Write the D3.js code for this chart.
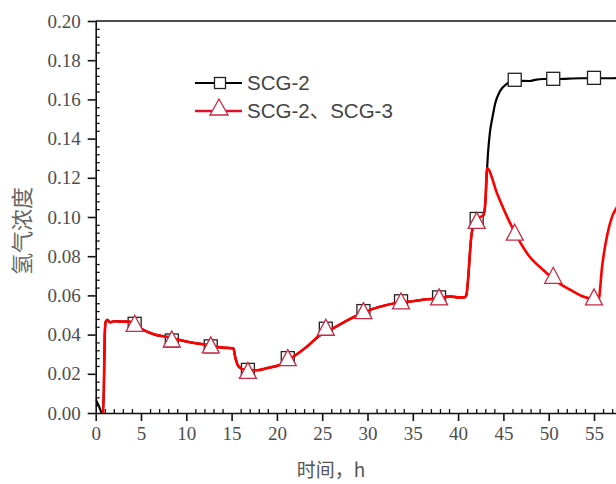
<!DOCTYPE html>
<html>
<head>
<meta charset="utf-8">
<script src="https://cdn.jsdelivr.net/npm/d3@7/dist/d3.min.js"></script>
<style>
  html, body { margin: 0; padding: 0; background: #fff; overflow: hidden; }
  svg { display: block; }
</style>
</head>
<body>
<svg id="chart" width="616" height="484"></svg>
<script>
// Hydrogen concentration over time, two monitoring cases.
// Both curves follow the same record until about 43 h.
const commonTime  = [0.8, 0.9, 1.0, 1.1, 1.3, 1.6, 2.0, 3.0, 3.8, 4.3, 5.3, 6.5, 8.2, 9.3, 10.5, 12.0, 12.6, 13.7, 15.2, 15.4, 15.8, 16.5, 17.8, 19.0, 20.3, 21.8, 23.3, 24.8, 26.2, 27.7, 29.2, 30.5, 32.0, 33.6, 35.0, 36.5, 38.0, 39.1, 40.0, 40.7, 40.9, 41.5, 42.0, 42.8, 43.0, 43.2];
const commonValue = [0.000, 0.012, 0.040, 0.0465, 0.0475, 0.0462, 0.0468, 0.0466, 0.0466, 0.0452, 0.0423, 0.0400, 0.0386, 0.0372, 0.0360, 0.0350, 0.0347, 0.0335, 0.0330, 0.0285, 0.0236, 0.0220, 0.0218, 0.0230, 0.0245, 0.0287, 0.0338, 0.0398, 0.0432, 0.0471, 0.0505, 0.0530, 0.0550, 0.0565, 0.0570, 0.0580, 0.0585, 0.0595, 0.0590, 0.0590, 0.0600, 0.0917, 0.0990, 0.1010, 0.1070, 0.1248];

// SCG-2 only: starts slightly above zero, then climbs to a plateau after 43 h
const scg2HeadTime  = [0.0, 0.4, 0.7];
const scg2HeadValue = [0.007, 0.003, 0.000];
const scg2TailTime  = [43.3, 43.5, 43.8, 44.1, 44.6, 45.4, 46.3, 47.9, 48.5, 49.4, 50.9, 53.5, 57.1, 60.0];
const scg2TailValue = [0.1325, 0.1427, 0.1510, 0.1580, 0.1640, 0.1680, 0.1695, 0.1694, 0.1700, 0.1704, 0.1704, 0.1708, 0.1708, 0.1710];

// SCG-2 and SCG-3: peaks near 43 h, decays, then rises again after 55 h
const scg23TailTime  = [44.3, 45.4, 46.5, 47.9, 49.4, 50.9, 52.4, 53.8, 54.9, 55.5, 55.9, 56.5, 57.0, 57.4, 58.0, 59.0, 60.0];
const scg23TailValue = [0.1120, 0.1002, 0.0900, 0.0797, 0.0730, 0.0670, 0.0628, 0.0594, 0.0580, 0.0577, 0.0750, 0.0917, 0.1002, 0.1040, 0.1080, 0.1120, 0.1150];

// Symbol positions along each curve
const markerTime  = [4.3, 8.4, 12.7, 16.8, 21.2, 25.4, 29.55, 33.7, 37.9, 42.05, 46.25, 50.5, 55.0];
const scg2Marker  = [0.0455, 0.0370, 0.0340, 0.0220, 0.0280, 0.0430, 0.0520, 0.0570, 0.0590, 0.0990, 0.1700, 0.1705, 0.1710];
const scg23Marker = [0.0455, 0.0375, 0.0345, 0.0215, 0.0280, 0.0435, 0.0520, 0.0570, 0.0590, 0.0980, 0.0920, 0.0700, 0.0590];

const xMajorTicks = [0, 5, 10, 15, 20, 25, 30, 35, 40, 45, 50, 55];
const yMajorTicks = [0.00, 0.02, 0.04, 0.06, 0.08, 0.10, 0.12, 0.14, 0.16, 0.18, 0.20];

const seriesNames = ["SCG-2", "SCG-2、SCG-3"];
const xTitle = "时间，h";
const yTitle = "氢气浓度";

const zip = (ts, vs) => ts.map((t, i) => ({ t, v: vs[i] }));
const common = zip(commonTime, commonValue);
const scg2 = zip(scg2HeadTime, scg2HeadValue).concat(common, zip(scg2TailTime, scg2TailValue));
const scg23 = common.concat(zip(scg23TailTime, scg23TailValue));

const svg = d3.select("#chart");
const plotLeft = 95.7, plotBottom = 413, plotTop = 21;

const x = d3.scaleLinear().domain([0, 60]).range([plotLeft, plotLeft + 60 * 9.06]);
const y = d3.scaleLinear().domain([0, 0.20]).range([plotBottom, plotTop]);

const tickFont = "'Liberation Serif', 'Times New Roman', serif";
const labelColor = "#4d4d4d";

// clip for the plotting region
svg.append("defs").append("clipPath").attr("id", "plotClip")
  .append("rect").attr("x", plotLeft).attr("y", plotTop - 10).attr("width", 700).attr("height", plotBottom - plotTop + 12);

// minor ticks (inward)
const xMinor = d3.range(0, 61, 1).filter(d => d % 5 !== 0);
const yMinor = d3.range(0, 51).map(i => i * 0.004).filter((d, i) => i % 5 !== 0);

svg.append("g").attr("transform", `translate(0,${plotBottom})`)
  .call(d3.axisBottom(x).tickValues(xMinor).tickSize(-4).tickFormat(""))
  .call(g => g.select(".domain").remove())
  .call(g => g.selectAll("line").attr("stroke", "#111").attr("stroke-width", 1.3));

svg.append("g").attr("transform", `translate(${plotLeft},0)`)
  .call(d3.axisLeft(y).tickValues(yMinor).tickSize(-4).tickFormat(""))
  .call(g => g.select(".domain").remove())
  .call(g => g.selectAll("line").attr("stroke", "#111").attr("stroke-width", 1.3));

// major ticks (outward) with labels
const xAxis = svg.append("g").attr("transform", `translate(0,${plotBottom})`)
  .call(d3.axisBottom(x).tickValues(xMajorTicks).tickSize(8).tickPadding(6).tickSizeOuter(0).tickFormat(d3.format("d")));
xAxis.select(".domain").attr("d", `M${plotLeft},0.5H700`).attr("stroke", "#111").attr("stroke-width", 1.6);
xAxis.selectAll(".tick line").attr("stroke", "#111").attr("stroke-width", 1.6);
xAxis.selectAll(".tick text").attr("font-family", tickFont).attr("font-size", 19).attr("fill", labelColor);

const yAxis = svg.append("g").attr("transform", `translate(${plotLeft},0)`)
  .call(d3.axisLeft(y).tickValues(yMajorTicks).tickSize(8).tickPadding(7).tickSizeOuter(0).tickFormat(d3.format(".2f")));
yAxis.select(".domain").attr("d", `M0.5,${plotTop}V${plotBottom}`).attr("stroke", "#111").attr("stroke-width", 1.6);
yAxis.selectAll(".tick line").attr("stroke", "#111").attr("stroke-width", 1.6);
yAxis.selectAll(".tick text").attr("font-family", tickFont).attr("font-size", 19).attr("fill", labelColor);

// top frame line
svg.append("line").attr("x1", plotLeft).attr("x2", 700).attr("y1", plotTop).attr("y2", plotTop)
  .attr("stroke", "#111").attr("stroke-width", 1.6);

// curves
const line = d3.line().x(d => x(d.t)).y(d => y(d.v)).curve(d3.curveMonotoneX);
const plot = svg.append("g").attr("clip-path", "url(#plotClip)");

plot.append("path").datum(scg2).attr("d", line)
  .attr("fill", "none").attr("stroke", "#000").attr("stroke-width", 2.2).attr("stroke-linejoin", "round");

const squareSize = 13;
plot.selectAll("rect.scg2").data(zip(markerTime, scg2Marker)).join("rect")
  .attr("class", "scg2")
  .attr("x", d => x(d.t) - squareSize / 2).attr("y", d => y(d.v) - squareSize / 2)
  .attr("width", squareSize).attr("height", squareSize)
  .attr("fill", "#fff").attr("stroke", "#222").attr("stroke-width", 1.3);

plot.append("path").datum(scg23).attr("d", line)
  .attr("fill", "none").attr("stroke", "#ff0000").attr("stroke-width", 2.6).attr("stroke-linejoin", "round");

const tri = (w, h) => `M0,${-h / 2 - 1}L${w / 2},${h / 2}L${-w / 2},${h / 2}Z`;
plot.selectAll("path.scg23").data(zip(markerTime, scg23Marker)).join("path")
  .attr("class", "scg23")
  .attr("transform", d => `translate(${x(d.t)},${y(d.v)})`)
  .attr("d", tri(17, 15))
  .attr("fill", "#fff").attr("stroke", "#c42a45").attr("stroke-width", 1.3);

// legend
const legend = svg.append("g");
const legendFont = "'Liberation Sans', Arial, 'Noto Sans CJK SC', sans-serif";
legend.append("line").attr("x1", 195).attr("x2", 242).attr("y1", 83).attr("y2", 83)
  .attr("stroke", "#000").attr("stroke-width", 2.2);
legend.append("rect").attr("x", 220 - 5.5).attr("y", 83 - 5.5).attr("width", 11).attr("height", 11)
  .attr("fill", "#fff").attr("stroke", "#222").attr("stroke-width", 1.3);
legend.append("text").attr("x", 247).attr("y", 90).text(seriesNames[0])
  .attr("font-family", legendFont).attr("font-size", 20.5).attr("fill", "#444");

legend.append("line").attr("x1", 195).attr("x2", 242).attr("y1", 111).attr("y2", 111)
  .attr("stroke", "#e0102a").attr("stroke-width", 2.6);
legend.append("path").attr("transform", "translate(219,107.5)").attr("d", tri(18, 15))
  .attr("fill", "#fff").attr("stroke", "#c42a45").attr("stroke-width", 1.3);
legend.append("text").attr("x", 247).attr("y", 118).text(seriesNames[1])
  .attr("font-family", legendFont).attr("font-size", 20.5).attr("fill", "#444");

// axis titles
svg.append("text").attr("x", 331).attr("y", 477).attr("text-anchor", "middle")
  .attr("font-family", "'Noto Sans CJK SC', sans-serif").attr("font-size", 19).attr("fill", "#555")
  .text(xTitle);
svg.append("text").attr("transform", "translate(30,231) rotate(-90)").attr("text-anchor", "middle")
  .attr("font-family", "'Noto Sans CJK SC', sans-serif").attr("font-size", 22).attr("fill", "#666")
  .text(yTitle);
</script>
</body>
</html>
